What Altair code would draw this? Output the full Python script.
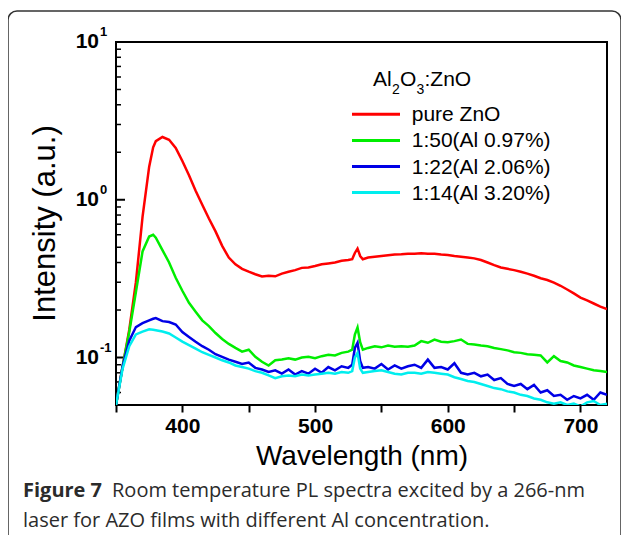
import altair as alt
import pandas as pd

# ---------------- data ----------------
WL = [350, 355, 360, 365, 370, 375, 378, 380, 385, 390, 395, 400, 405, 410, 415, 420,
      425, 430, 435, 440, 445, 450, 455, 460, 465, 470, 475, 480, 485, 490, 495, 500,
      505, 510, 515, 520, 525, 528, 530, 532, 534, 536, 540, 545, 550, 555, 560, 565,
      570, 575, 580, 585, 590, 595, 600, 605, 610, 615, 620, 625, 630, 635, 640, 645,
      650, 655, 660, 665, 670, 675, 680, 685, 690, 695, 700, 705, 710, 715, 720]

PURE_ZNO = [0.05, 0.088, 0.15, 0.30, 0.78, 1.62, 2.15, 2.35, 2.50, 2.40, 2.13, 1.76, 1.43, 1.14, 0.93, 0.76,
            0.63, 0.51, 0.43, 0.39, 0.365, 0.35, 0.337, 0.326, 0.33, 0.327, 0.34, 0.35, 0.358, 0.37, 0.372, 0.38,
            0.39, 0.395, 0.40, 0.41, 0.415, 0.42, 0.46, 0.49, 0.44, 0.42, 0.43, 0.435, 0.44, 0.445, 0.45, 0.452,
            0.455, 0.455, 0.458, 0.455, 0.455, 0.45, 0.447, 0.44, 0.435, 0.43, 0.425, 0.415, 0.40, 0.385, 0.372, 0.365,
            0.358, 0.35, 0.34, 0.33, 0.318, 0.31, 0.298, 0.285, 0.27, 0.255, 0.24, 0.23, 0.22, 0.21, 0.203]

AL_097 = [0.05, 0.088, 0.145, 0.26, 0.47, 0.585, 0.60, 0.575, 0.48, 0.40, 0.32, 0.265, 0.222, 0.195, 0.172, 0.158,
          0.143, 0.131, 0.122, 0.115, 0.109, 0.112, 0.101, 0.094, 0.089, 0.096, 0.097, 0.099, 0.097, 0.100, 0.101, 0.099,
          0.102, 0.104, 0.103, 0.107, 0.109, 0.112, 0.14, 0.155, 0.125, 0.112, 0.115, 0.118, 0.116, 0.119, 0.117, 0.118,
          0.117, 0.119, 0.127, 0.124, 0.13, 0.126, 0.125, 0.127, 0.13, 0.122, 0.121, 0.119, 0.118, 0.115, 0.113, 0.111,
          0.108, 0.107, 0.105, 0.104, 0.103, 0.093, 0.102, 0.095, 0.093, 0.089, 0.087, 0.085, 0.083, 0.082, 0.081]

AL_206 = [0.05, 0.088, 0.128, 0.156, 0.165, 0.172, 0.176, 0.178, 0.17, 0.168, 0.162, 0.145, 0.135, 0.126, 0.118, 0.112,
          0.105, 0.101, 0.097, 0.094, 0.091, 0.093, 0.086, 0.084, 0.081, 0.083, 0.079, 0.084, 0.078, 0.082, 0.079, 0.085,
          0.080, 0.087, 0.083, 0.088, 0.086, 0.09, 0.115, 0.124, 0.095, 0.086, 0.087, 0.085, 0.091, 0.084, 0.089, 0.085,
          0.088, 0.09, 0.086, 0.097, 0.086, 0.087, 0.084, 0.092, 0.08, 0.078, 0.08, 0.076, 0.078, 0.072, 0.074, 0.068,
          0.066, 0.068, 0.063, 0.067, 0.06, 0.062, 0.057, 0.058, 0.054, 0.057, 0.055, 0.058, 0.054, 0.06, 0.058]

AL_320 = [0.05, 0.085, 0.118, 0.14, 0.146, 0.151, 0.15, 0.149, 0.146, 0.142, 0.134, 0.126, 0.12, 0.114, 0.108, 0.104,
          0.1, 0.096, 0.093, 0.089, 0.087, 0.085, 0.082, 0.08, 0.077, 0.074, 0.076, 0.077, 0.076, 0.078, 0.077, 0.078,
          0.079, 0.08, 0.079, 0.081, 0.08, 0.082, 0.1, 0.107, 0.085, 0.08, 0.081, 0.082, 0.083, 0.081, 0.079, 0.078,
          0.08, 0.08, 0.079, 0.081, 0.08, 0.079, 0.078, 0.075, 0.073, 0.071, 0.07, 0.068, 0.066, 0.064, 0.063, 0.061,
          0.06, 0.058, 0.057, 0.055, 0.054, 0.052, 0.051, 0.052, 0.05, 0.051, 0.049, 0.052, 0.053, 0.05, 0.051]

SERIES = ["pure ZnO", "1:50(Al 0.97%)", "1:22(Al 2.06%)", "1:14(Al 3.20%)"]
COLORS = ["#ff0000", "#00ee00", "#0000e6", "#00eeee"]
VALUES = [PURE_ZNO, AL_097, AL_206, AL_320]

X_TICKS = [350, 400, 450, 500, 550, 600, 650, 700]
Y_MAJOR = [0.1, 1, 10]
Y_EXP = ["-1", "0", "1"]
Y_MINOR = [0.06, 0.07, 0.08, 0.09, 0.2, 0.3, 0.4, 0.5, 0.6, 0.7, 0.8, 0.9,
           2, 3, 4, 5, 6, 7, 8, 9]

X_TITLE = "Wavelength (nm)"
Y_TITLE = "Intensity (a.u.)"
CAPTION_BOLD = "Figure 7"
CAPTION_1 = "Room temperature PL spectra excited by a 266-nm"
CAPTION_2 = "laser for AZO films with different Al concentration."

# ---------------- chart ----------------
W, H = 491, 363
AX_FONT = "Liberation Sans"
CAP_FONT = "Open Sans"

xs = alt.Scale(domain=[350, 720], nice=False, zero=False)
ys = alt.Scale(type="log", domain=[0.05, 10], nice=False)

x_axis = alt.Axis(values=X_TICKS, labelExpr="datum.value % 100 == 0 ? datum.label : ''",
                  domain=False, grid=False, tickSize=7, tickWidth=2, tickColor="black",
                  labelFont=AX_FONT, labelFontSize=21, labelFontWeight="bold", labelColor="black",
                  labelPadding=3, title=X_TITLE, titleFont=AX_FONT, titleFontSize=28,
                  titleFontWeight="normal", titleColor="black", titlePadding=6)

one = pd.DataFrame({"k": [0]})

layers = []

# outer rounded frame
layers.append(alt.Chart(one).mark_rect(fillOpacity=0, stroke="#333333", strokeWidth=1.5,
                                       cornerRadius=9).encode(
    x=alt.value(-108), x2=alt.value(505), y=alt.value(-31), y2=alt.value(520)))

# caption
CAP_FS = 20
layers.append(alt.Chart(one).mark_text(text=CAPTION_BOLD, font=CAP_FONT, fontSize=CAP_FS, fontWeight="bold",
                                       align="left", baseline="alphabetic", color="#2b2b2b").encode(
    x=alt.value(-93), y=alt.value(455)))
layers.append(alt.Chart(one).mark_text(text=CAPTION_1, font=CAP_FONT, fontSize=CAP_FS,
                                       align="left", baseline="alphabetic", color="#2b2b2b").encode(
    x=alt.value(-4), y=alt.value(455)))
layers.append(alt.Chart(one).mark_text(text=CAPTION_2, font=CAP_FONT, fontSize=CAP_FS,
                                       align="left", baseline="alphabetic", color="#2b2b2b").encode(
    x=alt.value(-93), y=alt.value(485)))

# y title
layers.append(alt.Chart(one).mark_text(text=Y_TITLE, font=AX_FONT, fontSize=31, angle=270,
                                       align="center", baseline="middle", color="black").encode(
    x=alt.value(-70), y=alt.value(H / 2)))

# y ticks (inward)
minor_df = pd.DataFrame({"v": Y_MINOR})
major_df = pd.DataFrame({"v": Y_MAJOR, "e": Y_EXP, "b": ["10"] * len(Y_MAJOR)})
layers.append(alt.Chart(minor_df).mark_rule(color="black", strokeWidth=1.5).encode(
    y=alt.Y("v:Q", scale=ys, axis=None), x=alt.value(0), x2=alt.value(5)))
layers.append(alt.Chart(major_df).mark_rule(color="black", strokeWidth=2).encode(
    y=alt.Y("v:Q", scale=ys, axis=None), x=alt.value(0), x2=alt.value(9)))
layers.append(alt.Chart(major_df).mark_text(font=AX_FONT, fontSize=21, fontWeight="bold",
                                            align="right", baseline="middle", color="black").encode(
    y=alt.Y("v:Q", scale=ys, axis=None), x=alt.value(-17), text="b:N"))
layers.append(alt.Chart(major_df).mark_text(font=AX_FONT, fontSize=13, fontWeight="bold",
                                            align="left", baseline="middle", color="black", dy=-10).encode(
    y=alt.Y("v:Q", scale=ys, axis=None), x=alt.value(-16), text="e:N"))

# spectra
for name, vals, col in zip(SERIES, VALUES, COLORS):
    d = pd.DataFrame({"wl": WL, "I": vals})
    layers.append(alt.Chart(d).mark_line(color=col, strokeWidth=2.5, clip=True).encode(
        x=alt.X("wl:Q", scale=xs, axis=x_axis),
        y=alt.Y("I:Q", scale=ys, axis=None)))

# legend title Al2O3:ZnO
LEG_FS = 21
SUB_FS = 14
title_parts = [("Al", 257, LEG_FS, 44), ("2", 276, SUB_FS, 52), ("O", 284, LEG_FS, 44),
               ("3", 300.5, SUB_FS, 52), (":ZnO", 308.5, LEG_FS, 44)]
for t, px, fs, py in title_parts:
    layers.append(alt.Chart(one).mark_text(text=t, font=AX_FONT, fontSize=fs, align="left",
                                           baseline="alphabetic", color="black").encode(
        x=alt.value(px), y=alt.value(py)))

# legend entries
for i, (name, col) in enumerate(zip(SERIES, COLORS)):
    yy = 72.3 + 26.1 * i
    layers.append(alt.Chart(one).mark_rule(color=col, strokeWidth=3).encode(
        x=alt.value(236), x2=alt.value(284), y=alt.value(yy)))
    layers.append(alt.Chart(one).mark_text(text=name, font=AX_FONT, fontSize=LEG_FS, align="left",
                                           baseline="middle", color="black").encode(
        x=alt.value(295.7), y=alt.value(yy + 1)))

chart = alt.layer(*layers).properties(
    width=W, height=H,
    autosize=alt.AutoSizeParams(type="none"),
    padding={"left": 108, "top": 34, "right": 14, "bottom": 130},
    background="white",
).configure_view(stroke="black", strokeWidth=2)

chart.save("out.html", embed_options={"renderer": "svg", "actions": False})
